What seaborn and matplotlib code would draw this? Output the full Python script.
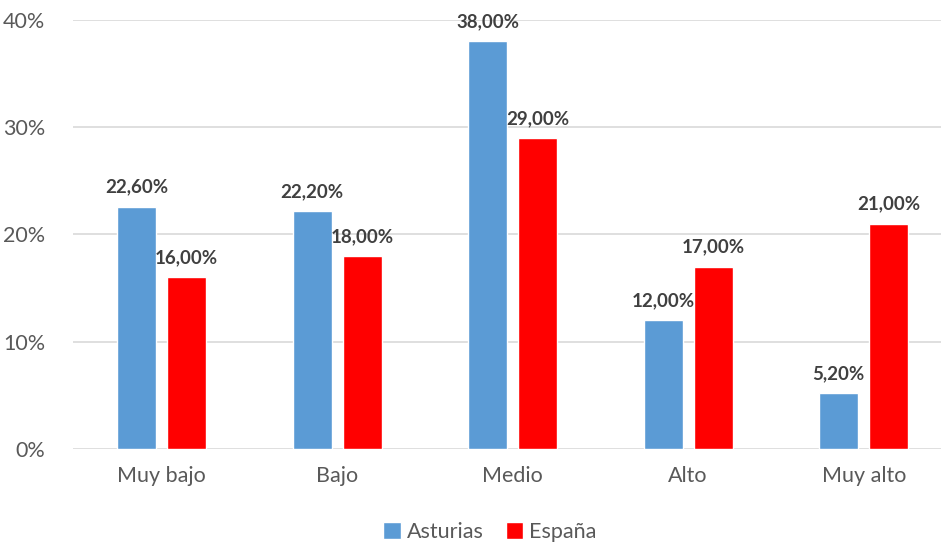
import pandas as pd
import matplotlib.pyplot as plt
import seaborn as sns

categories = ["Muy bajo", "Bajo", "Medio", "Alto", "Muy alto"]
asturias = [22.6, 22.2, 38.0, 12.0, 5.2]
espana = [16.0, 18.0, 29.0, 17.0, 21.0]
series_names = ["Asturias", "España"]
y_ticks = [0, 10, 20, 30, 40]

df = pd.DataFrame({
    "Nivel": categories * 2,
    "Serie": [series_names[0]] * 5 + [series_names[1]] * 5,
    "Valor": asturias + espana,
})

sns.set_theme(style="white")
plt.rcParams["font.family"] = ["Lato", "DejaVu Sans"]

fig = plt.figure(figsize=(9.41, 5.44), dpi=100)
ax = fig.add_axes([73 / 941, 95 / 544, 868 / 941, 429 / 544])

sns.barplot(data=df, x="Nivel", y="Valor", hue="Serie",
            palette=["#5B9BD5", "#FF0000"], width=0.57, gap=0.22,
            saturation=1, ax=ax, legend=True)

for container in ax.containers:
    labels = [f"{v:.2f}".replace(".", ",") + "%" for v in container.datavalues]
    ax.bar_label(container, labels=labels, padding=8, fontsize=13.5,
                 fontweight="bold", color="#404040")

ax.set_ylim(0, 40)
ax.set_xlim(-0.504, 4.44)
ax.set_yticks(y_ticks)
ax.set_yticklabels([f"{t}%" for t in y_ticks])
ax.yaxis.grid(True, color="#D9D9D9", linewidth=1.2)
ax.set_axisbelow(True)
ax.tick_params(axis="both", labelsize=15.5, labelcolor="#595959", length=0)
ax.tick_params(axis="x", pad=12)
ax.tick_params(axis="y", pad=20)
ax.set_xlabel("")
ax.set_ylabel("")
for s in ax.spines.values():
    s.set_visible(False)

ax.legend(loc="center", bbox_to_anchor=(490 / 941, 12 / 544),
          bbox_transform=fig.transFigure, ncol=2, frameon=False,
          fontsize=15.5, handlelength=0.8, handleheight=0.8,
          handletextpad=0.3, columnspacing=1.0, labelcolor="#595959")

fig.savefig("out.png", dpi=100)
